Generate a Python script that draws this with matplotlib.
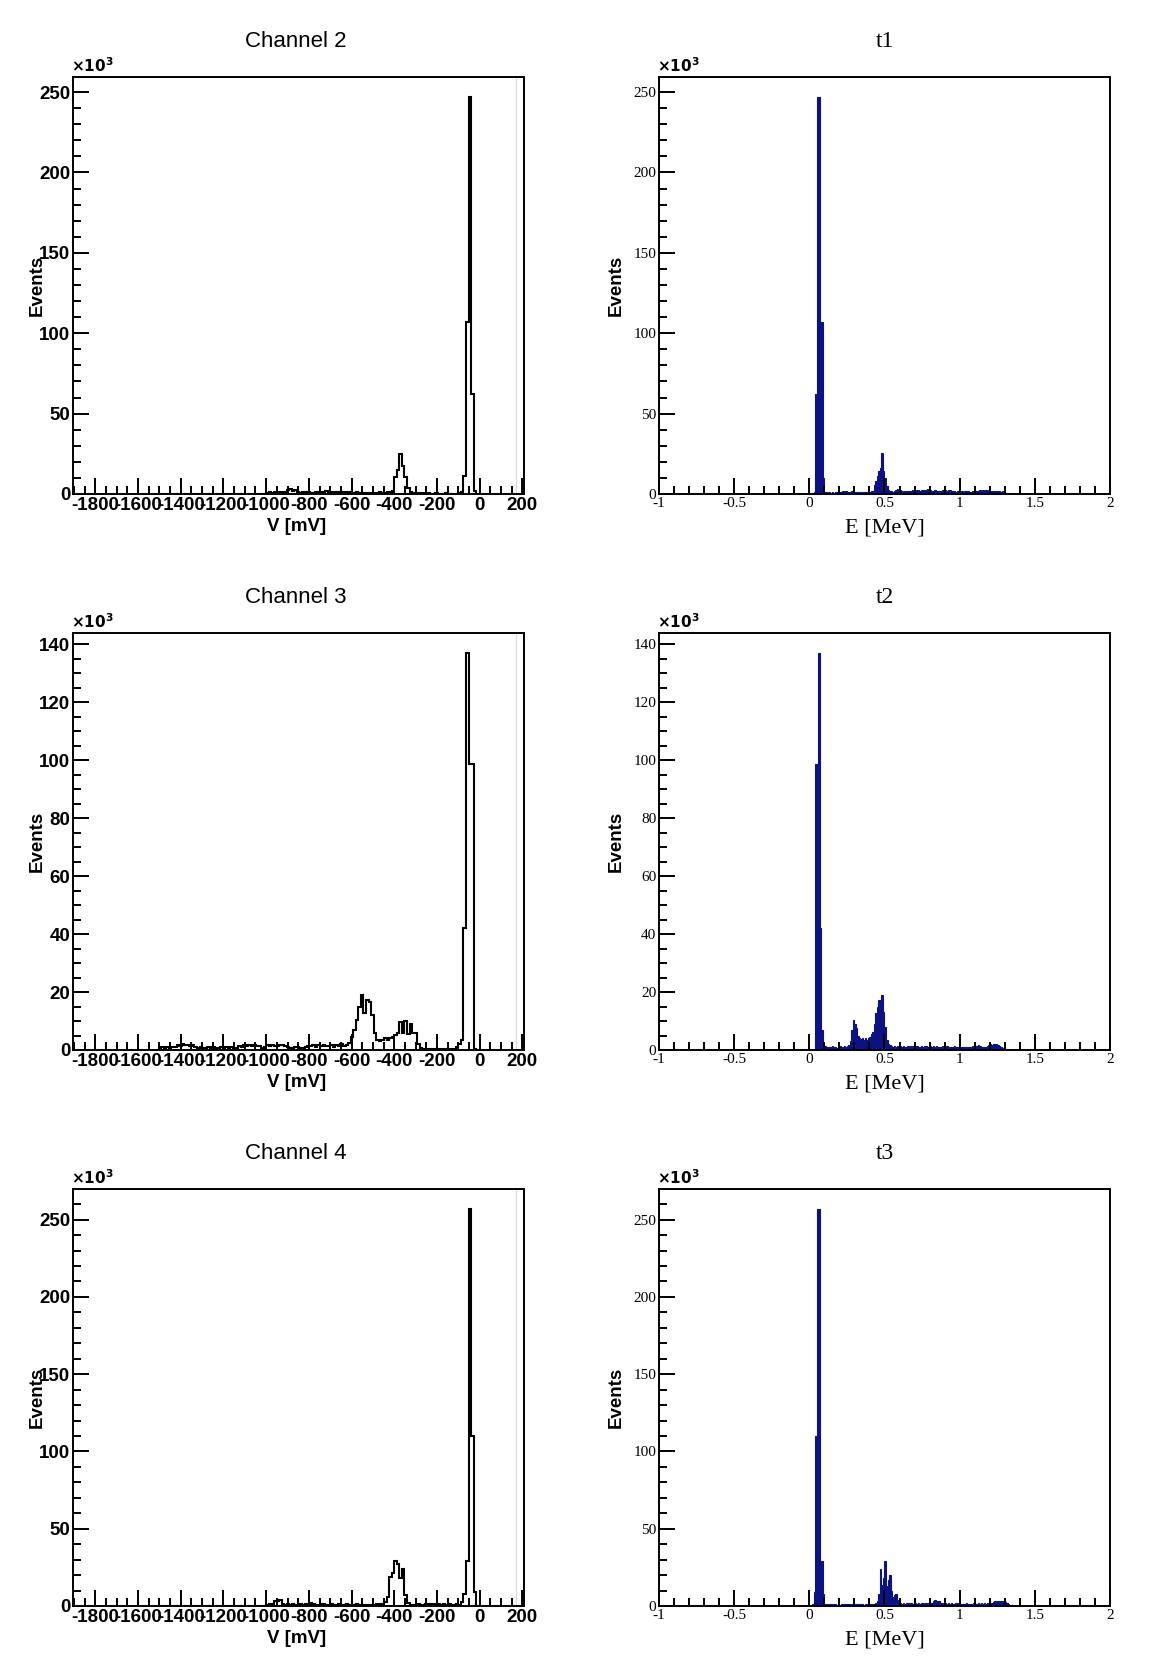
import numpy as np
import matplotlib
matplotlib.use("Agg")
import matplotlib.pyplot as plt
from matplotlib.ticker import MultipleLocator, FuncFormatter

plt.rcParams['axes.unicode_minus'] = False
plt.rcParams['mathtext.fontset'] = 'custom'
plt.rcParams['mathtext.rm'] = 'Liberation Sans Narrow:bold'

SANS = ['Liberation Sans Narrow', 'Liberation Sans', 'DejaVu Sans']
SERIF = ['Liberation Serif', 'DejaVu Serif']

# ---------------- data: counts in units of 10^3 ----------------
# channel histograms, 12 mV bins, each segment = (first bin edge in mV, counts)
ch_bin = 12
ch_grid_start = -1504
ch_nbins = 126

ch2_bg_a = [0.6, 1.0, 0.8, 1.2, 0.9, 1.1, 1.4, 1.0, 2.2, 2.8, 1.8, 2.5, 1.2, 0.8, 1.0, 0.7, 1.2,
            0.9, 0.8, 1.5, 1.1, 1.3, 0.9, 1.6, 1.2, 1.0, 1.4, 1.1, 0.9, 1.3, 1.0, 0.8, 1.1, 0.9,
            0.7, 1.0, 0.8, 0.6, 0.9, 0.7, 0.8, 0.6, 0.7, 0.9, 1.2, 0.8, 0.6, 1.0, 1.5, 2.0]
ch2_bump = [10.7, 14.9, 24.8, 17.4, 10.7, 3.5, 1.0]
ch2_bg_b = [0.6, 0.4, 0.5, 0.3, 0.4, 0.3, 0.5, 0.3, 0.2, 0.4, 0.3, 0.2, 0.3, 0.4, 0.2, 0.3,
            0.2, 0.3, 0.5]
ch2_peak = [1.0, 11, 107, 247, 62, 2, 0.3]

ch3_bg_a = [0.6, 0.9, 0.7, 1.0, 0.8, 0.9, 1.1, 1.7, 1.4, 1.9, 1.6, 1.8, 1.3, 1.7,
            0.9, 0.7, 1.0, 0.8, 0.6, 0.9, 0.7, 1.1, 0.8, 0.6, 0.9, 0.7, 1.0, 0.8, 0.9, 0.6, 0.8,
            1.5, 1.2, 1.7, 1.4, 1.6, 1.3, 1.8, 1.4, 1.5, 0.8, 0.9,
            1.7, 1.4, 1.8, 1.5, 1.3, 1.7, 1.6, 1.4, 1.2, 0.8, 0.7, 1.0, 0.9, 0.7, 0.8, 1.0,
            1.5, 1.3, 1.7, 1.2, 1.6, 1.4, 1.8, 1.3, 1.5, 1.7, 1.2, 1.6, 1.4, 1.9, 1.5, 1.8]
ch3_bump = [2.3, 4.6, 7, 10.3, 15, 18.9, 12.6, 17.2, 16.5, 12, 6, 3.5, 3, 3.5, 4, 3.5, 4,
            4.5, 5.2, 6, 9.5, 6, 10, 5.5, 9, 6, 5.7, 2, 0.8]
ch3_bg_b = [0.4, 0.3, 0.5, 0.3, 0.2, 0.4, 0.3, 0.2, 0.3, 0.2, 0.4, 0.3, 0.5]
ch3_peak = [1, 2, 3.4, 42, 137, 98.6, 98.6, 0.5]

ch4_bg_a = [0.8, 1.0, 1.2, 3.5, 3.2, 3.6, 1.1, 0.9, 1.0, 0.8, 1.2, 0.9, 0.7, 1.0, 0.8, 1.5,
            1.3, 1.7, 1.4, 0.9, 0.8, 1.0, 1.6, 0.9, 0.7, 1.0, 0.8, 0.9, 1.1, 0.7, 0.8, 1.0,
            0.9, 0.6, 0.8, 1.0, 0.7, 0.9, 0.8, 0.6, 0.9, 0.7, 0.8, 1.0, 1.2, 1.5]
ch4_bump = [2.5, 6, 19, 21.5, 29, 27, 18, 24, 7, 2]
ch4_bg_b = [0.9, 0.6, 0.8, 1.1, 0.7, 0.9, 1.2, 0.8, 1.0, 1.3, 0.9, 1.1, 0.8, 1.2, 0.9, 1.0,
            0.7, 0.9, 1.1, 0.8]
ch4_peak = [2.5, 8, 29, 257, 110, 9]

ch2_segments = [(-1000, ch2_bg_a), (-400, ch2_bump), (-316, ch2_bg_b), (-88, ch2_peak)]
ch3_segments = [(-1504, ch3_bg_a), (-616, ch3_bump), (-268, ch3_bg_b), (-112, ch3_peak)]
ch4_segments = [(-1000, ch4_bg_a), (-448, ch4_bump), (-328, ch4_bg_b), (-88, ch4_peak)]

# energy histograms, 0.01 MeV bins, each segment = (first bin edge in MeV, counts)
e_bin = 0.01
e_grid_start = 0.0
e_nbins = 140

t1_peak = [1, 62, 247, 247, 107, 107, 10]
t1_bg_a = [1.2, 0.9, 1.0, 1.3, 0.8, 1.1, 0.9, 1.2, 1.0, 0.8, 1.4, 1.1, 1.6, 1.2, 1.8, 1.3,
           1.5, 1.1, 1.7, 1.2, 1.4, 1.0, 1.2, 0.9, 1.1, 0.8, 1.3, 1.0, 1.2, 1.5, 1.3, 1.6]
t1_bump = [2, 5.5, 8, 11, 14, 16, 25.5, 14, 10, 5, 2.5]
t1_bg_b = [2.0, 1.6, 1.4, 1.8, 2.2, 2.8, 3.0, 2.4, 1.7, 1.5, 1.9, 1.4, 1.7, 2.1, 1.6, 2.3,
           2.5, 2.0, 2.6, 2.2, 1.8, 2.4, 2.7, 2.1, 2.5, 2.8, 2.3, 2.6, 2.0, 1.7, 2.2, 1.9,
           1.6, 2.1, 1.8, 2.4, 2.2, 2.6, 2.0, 2.3, 2.5, 1.9, 2.1, 1.7, 1.5, 1.8, 1.6, 1.4,
           1.7, 1.5, 1.9, 1.6, 1.8, 1.5, 1.3, 1.6, 1.4, 1.7, 2.0, 1.8, 2.3, 2.1, 2.4, 2.0,
           2.2, 1.9, 2.5, 2.1, 1.8, 2.0, 1.7, 1.9, 1.6, 1.8, 1.4, 1.6, 1.2, 0.8, 0.4, 0.2]

t2_peak = [0.5, 98.6, 98.6, 137, 42, 7, 2]
t2_bg_a = [1.3, 1.0, 1.2, 0.9, 1.1, 1.4, 1.0, 1.2, 0.8, 1.1, 1.3, 1.0, 1.2, 1.5, 1.1, 1.4, 1.8]
t2_bump = [3, 7, 10.3, 9, 7.5, 5, 4.2, 3.8, 4.3, 3.6, 4, 3.5, 4, 4.5, 5.5, 6.3, 9, 12.6,
           15, 17.2, 15, 18.9, 13, 8, 3.4, 2]
t2_bg_b = [1.6, 1.3, 1.1, 1.4, 1.2, 1.5, 1.0, 1.3, 1.1, 1.4, 1.2, 1.0, 1.3, 1.1, 1.5, 1.2,
           1.4, 1.1, 1.3, 1.0, 1.2, 1.4, 1.1, 1.3, 1.5, 1.2, 1.0, 1.3, 1.1, 1.4, 1.2, 1.3,
           1.0, 1.2, 1.1, 1.4, 1.2, 1.0, 1.3, 1.1, 1.2, 1.0, 1.1, 1.3, 1.0, 1.2, 0.9, 1.1,
           1.0, 1.2, 0.9, 1.1, 1.0, 1.2, 1.1, 1.3, 1.2, 1.5, 1.3, 1.6, 1.4, 1.2, 1.1, 1.0,
           1.2, 1.4, 1.7, 2.0, 1.8, 2.2, 1.9, 2.1, 1.6, 1.3, 1.0, 0.8, 0.5, 0.3, 0.2]

t3_peak = [1, 9, 110, 257, 257, 29, 29, 8]
t3_bg_a = [1.0, 0.8, 1.1, 0.9, 1.2, 0.8, 1.0, 1.3, 0.9, 1.1, 0.8, 1.0, 1.2, 0.9, 1.4, 1.0,
           1.1, 0.8, 1.2, 0.9, 1.0, 1.3, 1.1, 0.9, 1.2, 1.0, 0.8, 1.1, 1.3, 1.0, 1.2, 1.4,
           1.1, 1.6, 2.0]
t3_bump = [3, 8, 23.7, 13.7, 18, 29, 13, 17, 20, 10, 6, 7, 8, 4, 2]
t3_bg_b = [2.2, 1.6, 1.9, 1.4, 1.7, 2.0, 1.5, 1.8, 1.3, 1.6, 1.9, 1.4, 1.7, 1.5, 1.8, 2.1,
           1.6, 1.9, 1.5, 1.7, 2.0, 1.8, 3.2, 3.6, 2.8, 3.4, 3.0, 2.1, 1.8, 1.6, 1.9, 1.5,
           1.7, 1.4, 1.8, 1.6, 1.3, 1.7, 1.5, 1.8, 1.4, 1.6, 1.3, 1.5, 1.7, 1.4, 1.6, 1.3,
           1.5, 1.8, 1.6, 1.4, 1.7, 1.5, 1.9, 1.6, 1.8, 1.5, 1.7, 1.9, 1.6, 1.8, 2.6, 3.0,
           2.8, 3.2, 2.9, 3.1, 2.7, 3.0, 2.5, 2.2, 1.4, 0.9, 0.5, 0.3]

t1_segments = [(0.03, t1_peak), (0.10, t1_bg_a), (0.42, t1_bump), (0.53, t1_bg_b)]
t2_segments = [(0.03, t2_peak), (0.10, t2_bg_a), (0.27, t2_bump), (0.53, t2_bg_b)]
t3_segments = [(0.02, t3_peak), (0.10, t3_bg_a), (0.45, t3_bump), (0.60, t3_bg_b)]

ch_titles = ["Channel 2", "Channel 3", "Channel 4"]
t_titles = ["t1", "t2", "t3"]
y_major = [50, 20, 50]
y_minor = [10, 5, 10]


def fill_bins(start, width, nbins, segments):
    counts = np.zeros(nbins)
    for seg_start, values in segments:
        i0 = int(round((seg_start - start) / width))
        counts[i0:i0 + len(values)] = values
    return counts


# ---------------- layout (pixel units of the 1169x1666 page) ----------------
W, H = 1169, 1666
fig = plt.figure(figsize=(W / 100, H / 100), dpi=100)
fig.patch.set_facecolor('white')

row_tops = [77, 633, 1189]
col_lefts = [73, 659]
ax_w, ax_h = 451, 417
navy = '#0c1282'


def make_axes(left, top):
    return fig.add_axes([left / W, 1 - (top + ax_h) / H, ax_w / W, ax_h / H])


def style_axes(ax, ymaj, ymin, xmaj, xmin, tick_font, tick_size, tick_weight):
    for sp in ax.spines.values():
        sp.set_linewidth(1.4)
    ax.xaxis.set_major_locator(MultipleLocator(xmaj))
    ax.xaxis.set_minor_locator(MultipleLocator(xmin))
    ax.yaxis.set_major_locator(MultipleLocator(ymaj))
    ax.yaxis.set_minor_locator(MultipleLocator(ymin))
    ax.xaxis.set_major_formatter(FuncFormatter(lambda v, p: f"{v:g}"))
    ax.yaxis.set_major_formatter(FuncFormatter(lambda v, p: f"{v:g}"))
    ax.tick_params(which='both', direction='in', top=False, right=False, width=1.4)
    ax.tick_params(which='major', length=11.5, pad=2)
    ax.tick_params(which='minor', length=5.8)
    for lab in ax.get_xticklabels() + ax.get_yticklabels():
        lab.set_family(tick_font)
        lab.set_fontsize(tick_size)
        lab.set_fontweight(tick_weight)
    # ROOT style exponent above the y axis
    ax.text(-0.005, 1.004, r'$\times\mathrm{10^{3}}$', transform=ax.transAxes,
            ha='left', va='bottom', fontsize=11)


ch_edges = ch_grid_start + ch_bin * np.arange(ch_nbins + 1)
e_edges = e_grid_start + e_bin * np.arange(e_nbins + 1)

ch_data = [fill_bins(ch_grid_start, ch_bin, ch_nbins, s)
           for s in (ch2_segments, ch3_segments, ch4_segments)]
t_data = [fill_bins(e_grid_start, e_bin, e_nbins, s)
          for s in (t1_segments, t2_segments, t3_segments)]

for row in range(3):
    top = row_tops[row]

    # left column: raw channel spectra
    ax = make_axes(col_lefts[0], top)
    counts = ch_data[row]
    ax.stairs(counts, ch_edges, color='black', linewidth=1.5, baseline=0)
    ax.axvline(171, color='0.85', linewidth=0.8)
    ax.set_xlim(-1905, 208)
    ax.set_ylim(0, 1.05 * counts.max())
    style_axes(ax, y_major[row], y_minor[row], 200, 50, SANS, 13.5, 'bold')
    ax.text(0.495, 1.086, ch_titles[row], transform=ax.transAxes, ha='center',
            va='center', family=SANS, fontsize=16)
    ax.set_xlabel('V [mV]', family=SANS, fontsize=13.5, fontweight='bold')
    ax.xaxis.set_label_coords(0.495, -0.058)
    ax.set_ylabel('Events', family=SANS, fontsize=13.5, fontweight='bold')
    ax.yaxis.set_label_coords(-0.06, 0.5)

    # right column: calibrated energy spectra
    ax = make_axes(col_lefts[1], top)
    counts = t_data[row]
    ax.stairs(counts, e_edges, fill=True, facecolor=navy, edgecolor=navy,
              linewidth=0.8, baseline=0)
    ax.set_xlim(-1, 2)
    ax.set_ylim(0, 1.05 * counts.max())
    style_axes(ax, y_major[row], y_minor[row], 0.5, 0.1, SERIF, 11, 'normal')
    ax.text(0.5, 1.086, t_titles[row], transform=ax.transAxes, ha='center',
            va='center', family=SERIF, fontsize=17)
    ax.set_xlabel('E [MeV]', family=SERIF, fontsize=16)
    ax.xaxis.set_label_coords(0.5, -0.058)
    ax.set_ylabel('Events', family=SANS, fontsize=13.5, fontweight='bold')
    ax.yaxis.set_label_coords(-0.075, 0.5)

fig.savefig('out.png', dpi=100, facecolor='white')
